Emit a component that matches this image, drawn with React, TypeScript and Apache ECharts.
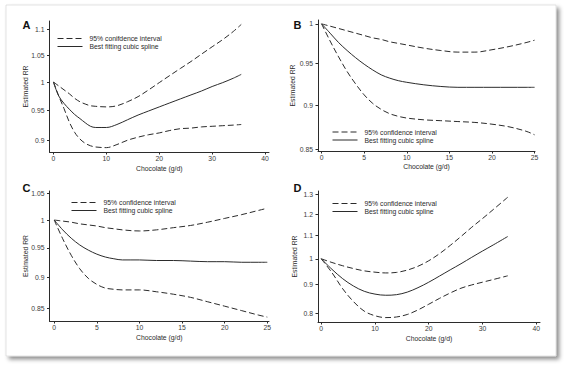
import React, { useEffect, useRef } from "react";
import * as echarts from "echarts";

// ---------- data ----------
const ciNameA = "95% conifdence interval"; // spelled as in panel A of the original
const ciName = "95% confidence interval";
const splineName = "Best fitting cubic spline";

const aX = [0, 1, 2, 3, 4, 5, 6, 7, 8, 10, 12, 14, 16, 18, 20, 22, 24, 26, 28, 30, 32, 34, 35.5];
const aUpper = [1.0, 0.993, 0.986, 0.979, 0.971, 0.965, 0.961, 0.958, 0.957, 0.956, 0.958, 0.965, 0.974, 0.986, 0.999, 1.012, 1.025, 1.038, 1.052, 1.066, 1.08, 1.096, 1.11];
const aSpline = [1.0, 0.975, 0.962, 0.952, 0.943, 0.936, 0.929, 0.923, 0.921, 0.921, 0.926, 0.934, 0.942, 0.949, 0.956, 0.963, 0.970, 0.977, 0.984, 0.992, 0.999, 1.007, 1.014];
const aLower = [1.0, 0.975, 0.953, 0.930, 0.913, 0.902, 0.895, 0.891, 0.889, 0.888, 0.893, 0.900, 0.905, 0.909, 0.912, 0.916, 0.919, 0.920, 0.922, 0.923, 0.924, 0.925, 0.926];

const bX = [0, 1, 2, 3, 4, 5, 6, 7, 8, 9, 10, 12, 14, 16, 18, 20, 22, 24, 25];
const bUpper = [1.0, 0.997, 0.994, 0.991, 0.988, 0.985, 0.982, 0.980, 0.977, 0.975, 0.973, 0.969, 0.966, 0.964, 0.964, 0.967, 0.971, 0.976, 0.979];
const bSpline = [1.0, 0.988, 0.976, 0.966, 0.957, 0.949, 0.942, 0.936, 0.932, 0.929, 0.927, 0.924, 0.922, 0.921, 0.921, 0.921, 0.921, 0.921, 0.921];
const bLower = [1.0, 0.978, 0.958, 0.940, 0.925, 0.912, 0.902, 0.895, 0.890, 0.887, 0.885, 0.883, 0.882, 0.881, 0.880, 0.878, 0.875, 0.870, 0.866];

const cX = [0, 1, 2, 3, 4, 5, 6, 7, 8, 10, 12, 14, 16, 18, 20, 22, 24, 25];
const cUpper = [1.0, 0.998, 0.996, 0.993, 0.991, 0.989, 0.986, 0.984, 0.982, 0.980, 0.982, 0.986, 0.990, 0.996, 1.003, 1.010, 1.018, 1.022];
const cSpline = [1.0, 0.982, 0.967, 0.955, 0.946, 0.939, 0.934, 0.931, 0.929, 0.929, 0.928, 0.928, 0.927, 0.926, 0.926, 0.925, 0.925, 0.925];
const cLower = [1.0, 0.966, 0.937, 0.914, 0.898, 0.888, 0.882, 0.880, 0.879, 0.879, 0.876, 0.872, 0.867, 0.860, 0.853, 0.846, 0.839, 0.836];

const dX = [0, 2, 4, 6, 8, 10, 12, 14, 16, 18, 20, 22, 24, 26, 28, 30, 32, 34.7];
const dUpper = [1.0, 0.985, 0.972, 0.961, 0.952, 0.947, 0.944, 0.946, 0.955, 0.970, 0.992, 1.021, 1.056, 1.095, 1.137, 1.178, 1.222, 1.285];
const dSpline = [1.0, 0.958, 0.922, 0.895, 0.876, 0.866, 0.862, 0.864, 0.873, 0.889, 0.909, 0.932, 0.956, 0.980, 1.006, 1.032, 1.058, 1.095];
const dLower = [1.0, 0.945, 0.885, 0.840, 0.808, 0.793, 0.787, 0.789, 0.797, 0.812, 0.831, 0.851, 0.870, 0.887, 0.899, 0.909, 0.919, 0.933];

const xTicks40 = [0, 10, 20, 30, 40];
const xTicks25 = [0, 5, 10, 15, 20, 25];
const aYTicks = [0.9, 0.95, 1, 1.05, 1.1];
const bYTicks = [0.85, 0.9, 0.95, 1];
const cYTicks = [0.85, 0.9, 0.95, 1, 1.05];
const dYTicks = [0.8, 0.9, 1, 1.1, 1.2, 1.3];

const panelLetters = ["A", "B", "C", "D"];
const xTitle = "Chocolate (g/d)";
const yTitle = "Estimated RR";

// ---------- layout ----------
const FONT = "'Liberation Sans', Arial, Helvetica, sans-serif";
const INK = "#2b2b2b";
const LABEL = "#3a3a3a";
const FS = 6.8;

const panels = [
  { x: aX, up: aUpper, sp: aSpline, lo: aLower, ci: ciNameA, xTicks: xTicks40, yTicks: aYTicks,
    grid: { left: 49.5, top: 21, width: 219.5, height: 131 }, xMin: -0.75, xMax: 40.75, yMin: 0.881, yMax: 1.117,
    legend: { left: 57, top: 35 }, letter: { x: 22.5, y: 25 }, yGap: 21, xGap: 12.5 },
  { x: bX, up: bUpper, sp: bSpline, lo: bLower, ci: ciName, xTicks: xTicks25, yTicks: bYTicks,
    grid: { left: 318, top: 20, width: 217, height: 131 }, xMin: -0.42, xMax: 25.05, yMin: 0.848, yMax: 1.005,
    legend: { left: 332, top: 128.5 }, letter: { x: 293.5, y: 25 }, yGap: 22.5, xGap: 11.5 },
  { x: cX, up: cUpper, sp: cSpline, lo: cLower, ci: ciName, xTicks: xTicks25, yTicks: cYTicks,
    grid: { left: 49.5, top: 191, width: 219.5, height: 130 }, xMin: -0.55, xMax: 25.2, yMin: 0.83, yMax: 1.055,
    legend: { left: 71, top: 199 }, letter: { x: 22.5, y: 188 }, yGap: 21, xGap: 12.5 },
  { x: dX, up: dUpper, sp: dSpline, lo: dLower, ci: ciName, xTicks: xTicks40, yTicks: dYTicks,
    grid: { left: 318, top: 191, width: 222, height: 131 }, xMin: -0.6, xMax: 40.7, yMin: 0.773, yMax: 1.318,
    legend: { left: 332, top: 200 }, letter: { x: 293.5, y: 188 }, yGap: 20.5, xGap: 12.5 },
];

const fmt = (v: number) => String(Math.round(v * 100) / 100);

function buildOption() {
  const grid: any[] = [];
  const xAxis: any[] = [];
  const yAxis: any[] = [];
  const series: any[] = [];
  const legend: any[] = [];
  const graphic: any[] = [
    {
      type: "rect",
      shape: { x: 6, y: 5, width: 550, height: 351 },
      style: {
        fill: "#fff",
        stroke: "#d0d0d0",
        lineWidth: 0.6,
        shadowBlur: 4,
        shadowOffsetX: 3,
        shadowOffsetY: 3,
        shadowColor: "rgba(0,0,0,0.45)",
      },
      z: -10,
      silent: true,
    },
  ];

  panels.forEach((p, i) => {
    grid.push({ ...p.grid, containLabel: false });
    xAxis.push({
      type: "value",
      gridIndex: i,
      min: p.xMin,
      max: p.xMax,
      name: xTitle,
      nameLocation: "middle",
      nameGap: p.xGap,
      nameMoveOverlap: false,
      nameTextStyle: { fontFamily: FONT, fontSize: FS, color: INK },
      axisLine: { show: true, onZero: false, lineStyle: { color: INK, width: 1 } },
      axisTick: { show: true, length: 2.5, inside: false, customValues: p.xTicks, lineStyle: { color: INK } },
      axisLabel: { customValues: p.xTicks, fontFamily: FONT, fontSize: FS, color: LABEL, margin: 3, formatter: fmt },
      splitLine: { show: false },
    });
    yAxis.push({
      type: "log",
      logBase: 10,
      gridIndex: i,
      min: p.yMin,
      max: p.yMax,
      name: yTitle,
      nameLocation: "middle",
      nameRotate: 90,
      nameGap: p.yGap,
      nameMoveOverlap: false,
      nameTextStyle: { fontFamily: FONT, fontSize: FS, color: INK },
      axisLine: { show: true, onZero: false, lineStyle: { color: INK, width: 1 } },
      axisTick: { show: true, length: 2.5, inside: false, customValues: p.yTicks, lineStyle: { color: INK } },
      axisLabel: { customValues: p.yTicks, fontFamily: FONT, fontSize: FS, color: LABEL, margin: 5, formatter: fmt },
      splitLine: { show: false },
      minorTick: { show: false },
    });
    const mk = (ys: number[], name: string, dashed: boolean) => ({
      type: "line",
      name,
      xAxisIndex: i,
      yAxisIndex: i,
      data: p.x.map((x, k) => [x, ys[k]]),
      showSymbol: false,
      symbol: "none",
      smooth: 0.35,
      lineStyle: { color: INK, width: 1, type: dashed ? [6, 3] : "solid" },
      itemStyle: { color: INK },
      silent: true,
    });
    series.push(mk(p.up, p.ci, true));
    series.push(mk(p.sp, splineName, false));
    series.push(mk(p.lo, p.ci, true));
    legend.push({
      orient: "vertical",
      left: p.legend.left,
      top: p.legend.top,
      padding: 0,
      itemGap: 1,
      itemWidth: 25,
      itemHeight: 8,
      selectedMode: false,
      data: [p.ci, splineName],
      itemStyle: { color: "rgba(0,0,0,0)", borderWidth: 0, opacity: 0 },
      lineStyle: { width: 1, color: INK },
      textStyle: { fontFamily: FONT, fontSize: FS, color: INK, padding: [0, 0, 0, 2] },
    });
    graphic.push({
      type: "text",
      x: p.letter.x,
      y: p.letter.y,
      style: {
        text: panelLetters[i],
        font: `bold 11px ${FONT}`,
        fill: "#111",
        verticalAlign: "middle",
        align: "left",
      },
      z: 10,
    });
  });

  return {
    animation: false,
    backgroundColor: "#fff",
    grid,
    xAxis,
    yAxis,
    series,
    legend,
    graphic,
  };
}

export default function App() {
  const ref = useRef<HTMLDivElement>(null);
  useEffect(() => {
    if (!ref.current) return;
    const chart = echarts.init(ref.current, undefined, { renderer: "svg" });
    chart.setOption(buildOption() as any);
    return () => chart.dispose();
  }, []);
  return (
    <div
      ref={ref}
      style={{ position: "fixed", left: 0, top: 0, width: 564, height: 367, background: "#fff" }}
    />
  );
}
